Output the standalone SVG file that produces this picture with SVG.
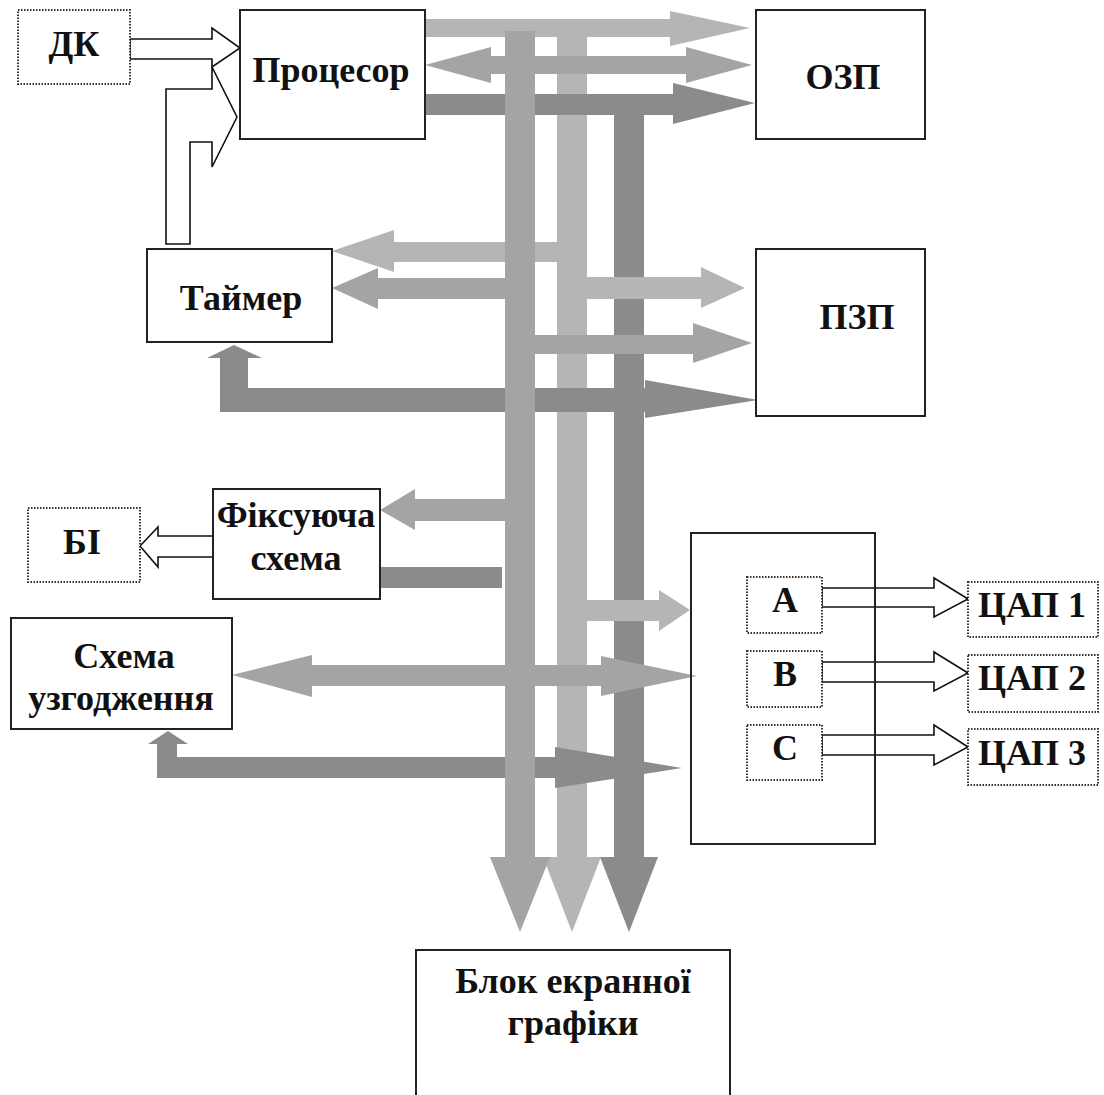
<svg xmlns="http://www.w3.org/2000/svg" width="1104" height="1095" viewBox="0 0 1104 1095">
<style>
.box{fill:#fff;stroke:#222;stroke-width:2}
.frame{fill:none;stroke:#222;stroke-width:2}
.dot{fill:#fff;stroke:#333;stroke-width:2;stroke-dasharray:1.5 1.5}
.t{font-family:'Liberation Serif','DejaVu Serif',serif;font-weight:700;font-size:36px;fill:#111;text-anchor:middle}
.hollow{fill:#fff;stroke:#111;stroke-width:1.6;stroke-linejoin:miter}
.L{fill:#b5b5b5}
.M{fill:#a4a4a4}
.D{fill:#8b8b8b}
</style>
<rect width="1104" height="1095" fill="#fff"/>

<g id="connectors">
  <rect class="L" x="557" y="19" width="30" height="839"/>
  <polygon class="L" points="543,857 601,857 572,932"/>
  <rect class="D" x="614" y="94" width="30" height="764"/>
  <polygon class="D" points="600,857 658,857 629,932"/>

  <polygon class="L" points="425,19 670,19 670,11 750,28 670,46 670,37 425,37"/>
  <polygon class="M" points="425,65 491,47 491,56 686,56 686,47 752,65 686,83 686,74 491,74 491,83"/>
  <polygon class="D" points="425,94 673,94 673,83 755,103 673,124 673,115 425,115"/>

  <polygon class="L" points="557,242 394,242 394,230 332,251 394,272 394,262 557,262"/>
  <polygon class="M" points="505,278 378,278 378,268 332,288 378,309 378,299 505,299"/>
  <polygon class="L" points="587,277 701,277 701,267 745,288 701,308 701,299 587,299"/>
  <polygon class="M" points="535,335 693,335 693,323 752,343 693,363 693,354 535,354"/>
  <polygon class="D" points="220,412 220,358 207,358 234,345 262,358 248,358 248,388 645,388 645,380 758,400 645,418 645,412"/>

  <polygon class="M" points="505,499 415,499 415,489 380,510 415,530 415,521 505,521"/>
  <rect class="D" x="380" y="567" width="122" height="21"/>

  <polygon class="L" points="587,600 659,600 659,590 690,610 659,631 659,621 587,621"/>
  <polygon class="M" points="232,675 312,655 312,665 601,665 601,656 697,676 601,696 601,686 312,686 312,697"/>
  <polygon class="D" points="157,778 157,744 148,744 168,731 188,744 177,744 177,757 555,757 555,747 682,768 555,788 555,778"/>

  <rect class="M" x="505" y="31" width="30" height="827"/>
  <polygon class="M" points="490,857 550,857 520,932"/>

  <polygon class="hollow" points="130,39 212,39 212,28 240,48 212,67 212,59 130,59"/>
  <polygon class="hollow" points="166,244 166,89 212,89 212,67 237,117 212,167 212,142 190,142 190,244"/>
  <polygon class="hollow" points="213,536 158,536 158,527 140,546 158,567 158,557 213,557"/>
  <polygon class="hollow" points="822,588 934,588 934,578 968,599 934,617 934,607 822,607"/>
  <polygon class="hollow" points="822,662 934,662 934,652 968,673 934,691 934,682 822,682"/>
  <polygon class="hollow" points="822,735 934,735 934,725 968,747 934,765 934,755 822,755"/>
</g>

<g id="dk"><rect class="dot" x="18" y="10" width="112" height="74"/><text class="t" x="74" y="56">ДК</text></g>
<g id="processor"><rect class="box" x="240" y="10" width="185" height="129"/><text class="t" x="331" y="82">Процесор</text></g>
<g id="ozp"><rect class="box" x="756" y="10" width="169" height="129"/><text class="t" x="843" y="89">ОЗП</text></g>
<g id="timer"><rect class="box" x="147" y="249" width="185" height="93"/><text class="t" x="241" y="310">Таймер</text></g>
<g id="pzp"><rect class="box" x="756" y="249" width="169" height="167"/><text class="t" x="857" y="329">ПЗП</text></g>
<g id="bi"><rect class="dot" x="28" y="508" width="112" height="74"/><text class="t" x="82" y="554">БІ</text></g>
<g id="fixing"><rect class="box" x="213" y="489" width="167" height="110"/><text class="t" x="296" y="527">Фіксуюча</text><text class="t" x="296" y="570">схема</text></g>
<g id="matching"><rect class="box" x="11" y="618" width="221" height="111"/><text class="t" x="124" y="668">Схема</text><text class="t" x="121" y="710">узгодження</text></g>
<g id="ports"><rect class="frame" x="691" y="533" width="184" height="311"/></g>
<g id="portA"><rect class="dot" x="747" y="577" width="75" height="56"/><text class="t" x="785" y="612">A</text></g>
<g id="portB"><rect class="dot" x="747" y="651" width="75" height="56"/><text class="t" x="785" y="686">B</text></g>
<g id="portC"><rect class="dot" x="747" y="725" width="75" height="55"/><text class="t" x="785" y="760">C</text></g>
<g id="dac1"><rect class="dot" x="968" y="582" width="130" height="55"/><text class="t" x="1032" y="617">ЦАП 1</text></g>
<g id="dac2"><rect class="dot" x="968" y="655" width="130" height="57"/><text class="t" x="1032" y="690">ЦАП 2</text></g>
<g id="dac3"><rect class="dot" x="968" y="729" width="130" height="56"/><text class="t" x="1032" y="765">ЦАП 3</text></g>
<g id="graphics"><rect class="box" x="416" y="950" width="314" height="150"/><text class="t" x="573" y="993">Блок екранної</text><text class="t" x="573" y="1035">графіки</text></g>
</svg>
